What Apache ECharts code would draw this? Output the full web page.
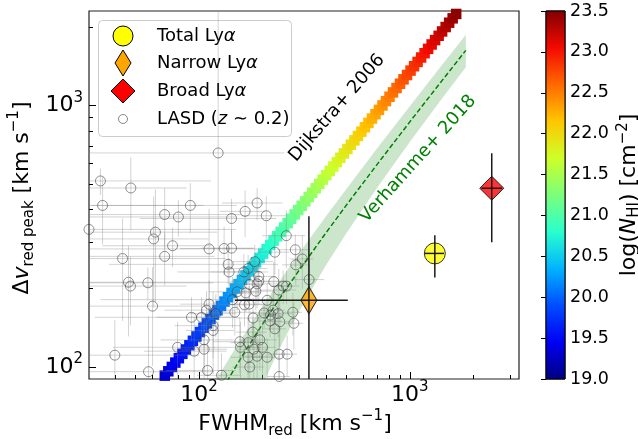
<!DOCTYPE html>
<html><head><meta charset="utf-8">
<script src="https://cdn.jsdelivr.net/npm/echarts@6/dist/echarts.min.js"></script>
<style>html,body{margin:0;padding:0;background:#fff}#c{width:638px;height:439px}</style>
</head><body><div id="c"></div>
<script>
const FONT = 'DejaVu Sans';

// ---- axis ticks ----
const xMajorTicks = [100, 1000];
const xMinorTicks = [40, 50, 60, 70, 80, 90, 200, 300, 400, 500, 600, 700, 800, 900, 2000, 3000];
const yMajorTicks = [100, 1000];
const yMinorTicks = [200, 300, 400, 500, 600, 700, 800, 900, 2000];
const cbarTicks = [19.0, 19.5, 20.0, 20.5, 21.0, 21.5, 22.0, 22.5, 23.0, 23.5];

// ---- LASD (z~0.2) sample ----
const lasdFwhm = [123.1,34.0,47.4,34.8,90.8,188.5,165.3,208.4,68.6,79.7,142.5,30.0,62.0,60.8,259.3,74.8,111.5,131.4,142.5,43.3,68.6,286.2,228.7,309.0,137.3,183.8,287.7,138.8,163.0,170.8,191.9,191.9,226.2,250.5,238.9,332.7,46.2,47.2,57.1,151.4,166.6,185.8,173.1,188.5,259.8,210.3,144.0,147.7,172.7,164.2,224.5,237.1,218.3,278.5,281.6,241.5,228.7,92.0,102.7,111.5,108.4,120.0,116.5,116.5,105.6,105.6,94.7,156.0,170.8,194.1,199.9,181.8,157.2,170.8,188.5,210.3,239.7,261.6,174.0,109.6,127.7,239.7,79.0,39.8,57.5,60.1,180.4,203.5,217.3,179.8];
const lasdDv = [659,515,484,415,415,424,394,379,383,375,370,336,328,309,318,291,283,284,285,260,265,281,275,259,247,253,246,231,231,238,222,213,212,204,197,216,211,204,210,194,192,195,207,208,204,180,181,162,174,173,165,160,158,162,147,149,140,155,155,174,165,160,144,138,127,117,115,125,124,127,119,117,119,109,110,109,112,112,100,97,93,92,119,111,96,171,154,161,150,136];
const lasdFwhmErr = [130,80,40,70,60,60,40,50,90,70,90,120,60,50,60,40,90,50,40,90,50,50,40,40,100,40,40,60,50,40,40,50,40,30,50,60,100,40,60,40,30,40,30,50,40,40,110,40,30,40,30,40,30,30,30,40,30,60,40,30,40,30,40,30,40,30,40,40,30,40,30,30,40,30,30,30,30,30,30,40,30,30,40,60,60,60,30,30,30,30];
const lasdDvErr = [1650,60,150,120,90,60,80,70,100,60,70,80,150,140,80,50,120,60,50,110,60,40,50,60,40,40,40,30,40,30,30,40,40,30,40,40,80,60,30,30,30,30,30,40,30,30,40,30,30,30,30,30,20,30,30,30,30,30,30,40,30,30,50,30,30,30,40,30,30,30,30,30,30,20,20,20,30,20,20,30,20,20,30,40,60,70,30,20,20,20];

// ---- this work ----
const ownNames = ['Total Lyα', 'Narrow Lyα', 'Broad Lyα'];
const ownFwhm = [1315, 332, 2450];
const ownDv = [272, 180, 483];
const ownFwhmLo = [1175, 148, 2190];
const ownFwhmHi = [1455, 508, 2740];
const ownDvLo = [220, 60, 300];
const ownDvHi = [319, 377, 657];

// ---- Dijkstra+ 2006 model track ----
const dijkstraLogNHI = [19.20,19.25,19.30,19.35,19.40,19.45,19.50,19.55,19.60,19.65,19.70,19.75,19.80,19.85,19.90,19.95,20.00,20.05,20.10,20.15,20.20,20.25,20.30,20.35,20.40,20.45,20.50,20.55,20.60,20.65,20.70,20.75,20.80,20.85,20.90,20.95,21.00,21.05,21.10,21.15,21.20,21.25,21.30,21.35,21.40,21.45,21.50,21.55,21.60,21.65,21.70,21.75,21.80,21.85,21.90,21.95,22.00,22.05,22.10,22.15,22.20,22.25,22.30,22.35,22.40,22.45,22.50,22.55,22.60,22.65,22.70,22.75,22.80,22.85,22.90,22.95,23.00,23.05,23.10,23.15,23.20,23.25,23.30,23.35,23.40,23.45,23.50];
const dijkstraDv = [85.85,89.21,92.70,96.33,100.1,104.0,108.1,112.3,116.7,121.2,126.0,130.9,136.1,141.4,146.9,152.6,158.6,164.8,171.3,178.0,184.9,192.1,199.7,207.5,215.6,224.1,232.8,241.9,251.4,261.2,271.5,282.1,293.1,304.6,316.5,328.9,341.8,355.1,369.0,383.4,398.4,414.0,430.2,447.0,464.5,482.7,501.6,521.2,541.6,562.8,584.8,607.7,631.5,656.2,681.9,708.5,736.3,765.1,795.0,826.1,858.4,892.0,926.9,963.1,1001,1040,1081,1123,1167,1212,1260,1309,1361,1414,1469,1527,1586,1648,1713,1780,1849,1921,1997,2075,2156,2241,2328];
const dijkstraFwhm = [63.63,66.12,68.71,71.40,74.19,77.09,80.11,83.24,86.50,89.88,93.40,97.05,100.9,104.8,108.9,113.2,117.6,122.2,127.0,131.9,137.1,142.5,148.0,153.8,159.8,166.1,172.6,179.3,186.3,193.6,201.2,209.0,217.2,225.7,234.6,243.8,253.3,263.2,273.5,284.2,295.3,306.8,318.9,331.3,344.3,357.8,371.8,386.3,401.5,417.2,433.5,450.4,468.1,486.4,505.5,525.2,545.8,567.1,589.3,612.4,636.3,661.2,687.1,713.9,741.9,770.9,801.1,832.4,865.0,898.8,934.0,970.5,1008.5,1048,1089,1132,1175.8,1222,1270,1319,1371,1424,1480.3,1538,1598,1661,1726];

// ---- Verhamme+ 2018 relation and its scatter band ----
const verhammeFwhm = [130, 140, 150, 170, 200, 250, 300, 400, 500, 700, 1000, 1400, 1845];
const verhammeDv = [83, 92, 101, 119, 146, 191, 236, 326, 416, 596, 866, 1226, 1626];
const bandUpperFwhm = [115, 120, 130, 140, 160, 180, 200, 220, 250, 300, 400, 500, 700, 1000, 1400, 1845];
const bandUpperDv = [83.5, 88.6, 98.9, 109.2, 129.8, 150.4, 171, 191.6, 222.5, 274, 377, 480, 686, 995, 1407, 1865];
const bandLowerFwhm = [190, 200, 210, 220, 250, 300, 400, 500, 700, 1000, 1400, 1845];
const bandLowerDv = [77, 85, 93, 101, 125, 165, 245, 325, 485, 725, 1045, 1401];

const jet = ['#000080','#0000f3','#004cff','#00b3ff','#29ffce','#7bff7b','#ceff29','#ffc600','#ff6800','#f30900','#800000'];

const tickRich = {
  b: {fontSize: 22, fontFamily: FONT, color: '#000', lineHeight: 30, verticalAlign: 'middle'},
  s: {fontSize: 15, fontFamily: FONT, color: '#000', lineHeight: 15, verticalAlign: 'top'}
};
function logFmt(v) { return '{b|10}{s|' + Math.round(Math.log10(v)) + '}'; }

const titleRich = {
  n: {fontSize: 22, fontFamily: FONT, fill: '#000', lineHeight: 30, verticalAlign: 'middle'},
  i: {fontSize: 22, fontFamily: FONT, fill: '#000', fontStyle: 'italic', lineHeight: 30, verticalAlign: 'middle'},
  sub: {fontSize: 15, fontFamily: FONT, fill: '#000', lineHeight: 15, verticalAlign: 'bottom'},
  sup: {fontSize: 15, fontFamily: FONT, fill: '#000', lineHeight: 15, verticalAlign: 'top'}
};
const cbTitleRich = {
  n: {fontSize: 22, fontFamily: FONT, fill: '#000', lineHeight: 26, verticalAlign: 'middle'},
  i: {fontSize: 22, fontFamily: FONT, fill: '#000', fontStyle: 'italic', lineHeight: 26, verticalAlign: 'middle'},
  sub: {fontSize: 15, fontFamily: FONT, fill: '#000', lineHeight: 15, verticalAlign: 'bottom'},
  sup: {fontSize: 15, fontFamily: FONT, fill: '#000', lineHeight: 15, verticalAlign: 'top'}
};
const legRich = {
  n: {fontSize: 18, fontFamily: FONT, fill: '#000'},
  i: {fontSize: 18, fontFamily: FONT, fill: '#000', fontStyle: 'italic'}
};

function errRender(color, width) {
  return function (params, api) {
    const x = api.value(0), y = api.value(1);
    const a = api.coord([api.value(2), y]), b = api.coord([api.value(3), y]);
    const c = api.coord([x, api.value(4)]), d = api.coord([x, api.value(5)]);
    return {type: 'group', children: [
      {type: 'line', shape: {x1: a[0], y1: a[1], x2: b[0], y2: b[1]}, style: {stroke: color, lineWidth: width}},
      {type: 'line', shape: {x1: c[0], y1: c[1], x2: d[0], y2: d[1]}, style: {stroke: color, lineWidth: width}}
    ]};
  };
}

const lasdErrData = lasdFwhm.map((f, i) => [f, lasdDv[i], Math.max(f - lasdFwhmErr[i], 1), f + lasdFwhmErr[i], Math.max(lasdDv[i] - lasdDvErr[i], 1), lasdDv[i] + lasdDvErr[i]]);
const ownErrData = ownFwhm.map((f, i) => [f, ownDv[i], ownFwhmLo[i], ownFwhmHi[i], ownDvLo[i], ownDvHi[i]]);
const ownSymbols = ['circle', 'diamond', 'diamond'];
const ownSizes = [21, [16, 27], [24, 24]];
const ownColors = ['#ffff00', '#ffa500', '#ff0000'];

const chart = echarts.init(document.getElementById('c'), null, {renderer: 'canvas'});
const option = {
  animation: false,
  textStyle: {fontFamily: FONT},
  grid: [
    {left: 89, top: 11, width: 430, height: 368, show: true, borderColor: '#222', borderWidth: 1.2, backgroundColor: 'transparent'},
    {left: 546, top: 11, width: 19, height: 368, show: true, borderColor: '#000', borderWidth: 1, backgroundColor: 'transparent'}
  ],
  xAxis: [
    {type: 'log', logBase: 10, gridIndex: 0, min: 30, max: 3300, position: 'bottom',
     axisLine: {show: false}, splitLine: {show: false},
     axisTick: {show: true, inside: true, length: 7, customValues: xMajorTicks, lineStyle: {color: '#000', width: 1}},
     axisLabel: {show: true, customValues: xMajorTicks, formatter: logFmt, rich: tickRich, margin: 1}},
    {type: 'log', logBase: 10, gridIndex: 0, min: 30, max: 3300, position: 'bottom',
     axisLine: {show: false}, splitLine: {show: false}, axisLabel: {show: false},
     axisTick: {show: true, inside: true, length: 4, customValues: xMinorTicks, lineStyle: {color: '#000', width: 1}}},
    {type: 'value', gridIndex: 1, min: 0, max: 1, show: false}
  ],
  yAxis: [
    {type: 'log', logBase: 10, gridIndex: 0, min: 90, max: 2300, position: 'left',
     axisLine: {show: false}, splitLine: {show: false},
     axisTick: {show: true, inside: true, length: 7, customValues: yMajorTicks, lineStyle: {color: '#000', width: 1}},
     axisLabel: {show: true, customValues: yMajorTicks, formatter: logFmt, rich: tickRich, margin: 6}},
    {type: 'log', logBase: 10, gridIndex: 0, min: 90, max: 2300, position: 'left',
     axisLine: {show: false}, splitLine: {show: false}, axisLabel: {show: false},
     axisTick: {show: true, inside: true, length: 4, customValues: yMinorTicks, lineStyle: {color: '#000', width: 1}}},
    {type: 'value', gridIndex: 1, min: 19, max: 23.5, interval: 0.5, position: 'right',
     axisLine: {show: false}, splitLine: {show: false},
     axisTick: {show: true, inside: true, length: 5, lineStyle: {color: '#000', width: 1}},
     axisLabel: {show: true, fontSize: 17.5, fontFamily: FONT, color: '#000', margin: 5, formatter: v => v.toFixed(1)}}
  ],
  visualMap: [{type: 'continuous', show: false, dimension: 2, seriesIndex: 2, min: 19, max: 23.5, inRange: {color: jet}}],
  series: [
    {type: 'custom', name: 'Verhamme band', xAxisIndex: 0, yAxisIndex: 0, clip: true, z: 1,
     data: [[bandUpperFwhm[0], bandUpperDv[0]]],
     renderItem: function (params, api) {
       const pts = [];
       for (let i = 0; i < bandUpperFwhm.length; i++) pts.push(api.coord([bandUpperFwhm[i], bandUpperDv[i]]));
       for (let i = bandLowerFwhm.length - 1; i >= 0; i--) pts.push(api.coord([bandLowerFwhm[i], bandLowerDv[i]]));
       return {type: 'polygon', shape: {points: pts}, style: {fill: 'rgba(0,128,0,0.2)'}};
     }},
    {type: 'line', name: 'Verhamme+ 2018', xAxisIndex: 0, yAxisIndex: 0, z: 2, symbol: 'none', clip: true,
     data: verhammeFwhm.map((f, i) => [f, verhammeDv[i]]),
     lineStyle: {color: '#008000', width: 1.5, type: [5, 2.5]}},
    {type: 'scatter', name: 'Dijkstra+ 2006', xAxisIndex: 0, yAxisIndex: 0, z: 3, clip: true,
     symbol: 'rect', symbolSize: 10.5,
     data: dijkstraFwhm.map((f, i) => [f, dijkstraDv[i], dijkstraLogNHI[i]]),
     itemStyle: {borderWidth: 0, opacity: 1}},
    {type: 'custom', name: 'LASD err', xAxisIndex: 0, yAxisIndex: 0, z: 4, clip: true,
     encode: {x: 0, y: 1}, data: lasdErrData, renderItem: errRender('rgba(128,128,128,0.35)', 1)},
    {type: 'scatter', name: 'LASD', xAxisIndex: 0, yAxisIndex: 0, z: 5, clip: true,
     symbol: 'circle', symbolSize: 10,
     data: lasdFwhm.map((f, i) => [f, lasdDv[i]]),
     itemStyle: {color: 'rgba(0,0,0,0)', borderColor: 'rgba(60,60,60,0.7)', borderWidth: 1}},
    {type: 'scatter', name: 'This work', xAxisIndex: 0, yAxisIndex: 0, z: 6, clip: true,
     data: ownFwhm.map((f, i) => ({name: ownNames[i], value: [f, ownDv[i]], symbol: ownSymbols[i], symbolSize: ownSizes[i],
       itemStyle: {color: ownColors[i], borderColor: '#000', borderWidth: 1}}))},
    {type: 'custom', name: 'This work err', xAxisIndex: 0, yAxisIndex: 0, z: 7, clip: true,
     encode: {x: 0, y: 1}, data: ownErrData, renderItem: errRender('#1a1a1a', 1.5)},
    {type: 'custom', name: 'colorbar', xAxisIndex: 2, yAxisIndex: 2, z: 1,
     data: [[0, cbarTicks[0]]],
     renderItem: function (params, api) {
       const p0 = api.coord([0, cbarTicks[cbarTicks.length - 1]]);
       const p1 = api.coord([1, cbarTicks[0]]);
       return {type: 'rect', shape: {x: p0[0], y: p0[1], width: p1[0] - p0[0], height: p1[1] - p0[1]},
         style: {fill: {type: 'linear', x: 0, y: 1, x2: 0, y2: 0, colorStops: jet.map((c, k) => ({offset: k / (jet.length - 1), color: c}))},
                 stroke: '#000', lineWidth: 1}};
     }}
  ],
  graphic: [
    {type: 'group', x: 98, y: 20, z: 100, children: [
      {type: 'rect', shape: {x: 0.5, y: 0.5, width: 193, height: 116, r: 4}, style: {fill: 'rgba(255,255,255,0.8)', stroke: '#cccccc', lineWidth: 1}},
      {type: 'circle', shape: {cx: 25, cy: 16, r: 10}, style: {fill: '#ffff00', stroke: '#000', lineWidth: 1}},
      {type: 'polygon', shape: {points: [[25, 30], [33, 43], [25, 56], [17, 43]]}, style: {fill: '#ffa500', stroke: '#000', lineWidth: 1}},
      {type: 'polygon', shape: {points: [[25, 59], [37, 71], [25, 83], [13, 71]]}, style: {fill: '#ff0000', stroke: '#000', lineWidth: 1}},
      {type: 'circle', shape: {cx: 25, cy: 99, r: 4.5}, style: {fill: 'none', stroke: 'rgba(60,60,60,0.6)', lineWidth: 1}},
      {type: 'text', x: 59, y: 16, style: {text: '{n|Total Ly}{i|α}', rich: legRich, verticalAlign: 'middle'}},
      {type: 'text', x: 59, y: 43, style: {text: '{n|Narrow Ly}{i|α}', rich: legRich, verticalAlign: 'middle'}},
      {type: 'text', x: 59, y: 71, style: {text: '{n|Broad Ly}{i|α}', rich: legRich, verticalAlign: 'middle'}},
      {type: 'text', x: 59, y: 99, style: {text: '{n|LASD (}{i|z}{n| ∼ 0.2)}', rich: legRich, verticalAlign: 'middle'}}
    ]},
    {type: 'text', x: 337, y: 108, rotation: 49 * Math.PI / 180, z: 50,
     style: {text: 'Dijkstra+ 2006', fontSize: 18, fontFamily: FONT, fill: '#000', align: 'center', verticalAlign: 'middle'}},
    {type: 'text', x: 418, y: 159, rotation: 48 * Math.PI / 180, z: 50,
     style: {text: 'Verhamme+ 2018', fontSize: 18, fontFamily: FONT, fill: '#008000', align: 'center', verticalAlign: 'middle'}},
    {type: 'text', x: 295, y: 424, z: 50,
     style: {text: '{n|FWHM}{sub|red}{n| [km s}{sup|−1}{n|]}', rich: titleRich, align: 'center', verticalAlign: 'middle'}},
    {type: 'text', x: 22, y: 198, rotation: Math.PI / 2, z: 50,
     style: {text: '{n|Δ}{i|v}{sub|red peak}{n| [km s}{sup|−1}{n|]}', rich: titleRich, align: 'center', verticalAlign: 'middle'}},
    {type: 'text', x: 629, y: 195, rotation: Math.PI / 2, z: 50,
     style: {text: '{n|log(}{i|N}{sub|HI}{n|) [cm}{sup|−2}{n|]}', rich: cbTitleRich, align: 'center', verticalAlign: 'middle'}}
  ]
};
chart.setOption(option);
</script>
</body></html>
